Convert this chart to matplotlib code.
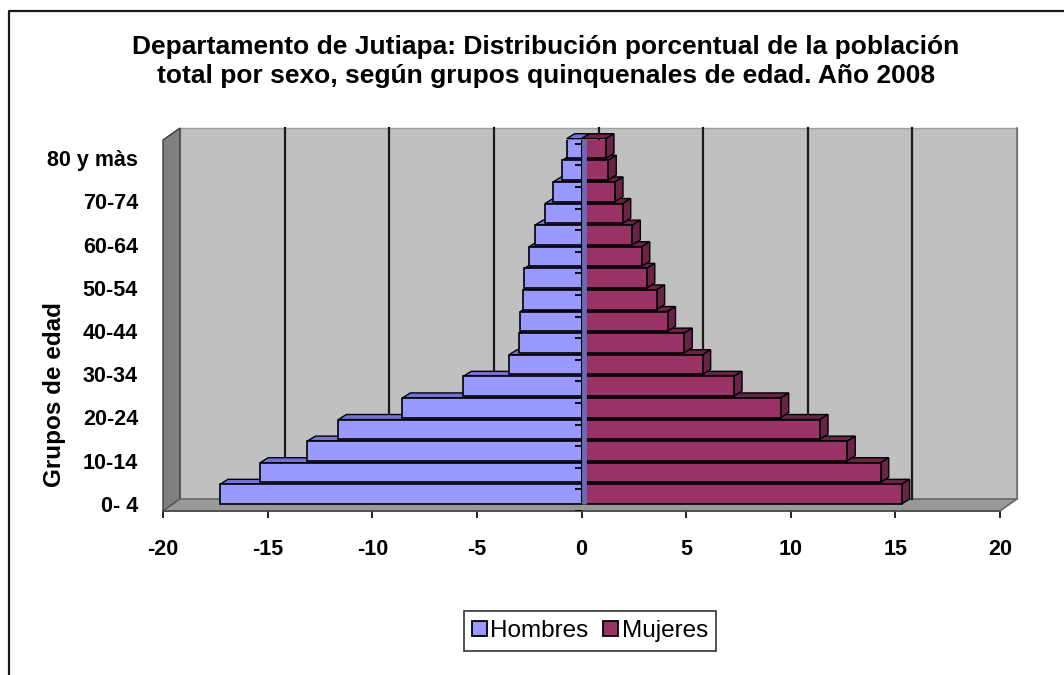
import matplotlib

matplotlib.use("Agg")
import matplotlib.pyplot as plt
import numpy as np
from matplotlib.lines import Line2D
from matplotlib.patches import Patch, Polygon


GROUPS = [
    "0- 4", "5-9", "10-14", "15-19", "20-24", "25-29", "30-34", "35-39",
    "40-44", "45-49", "50-54", "55-59", "60-64", "65-69", "70-74", "75-79",
    "80 y màs",
]
HOMBRES = [
    -17.28, -15.36, -13.10, -11.62, -8.56, -5.65, -3.46, -2.99,
    -2.92, -2.78, -2.73, -2.51, -2.22, -1.74, -1.35, -0.92, -0.71,
]
MUJERES = [
    15.30, 14.30, 12.70, 11.40, 9.52, 7.29, 5.79, 4.91,
    4.11, 3.59, 3.12, 2.88, 2.43, 1.97, 1.60, 1.28, 1.17,
]
X_TICKS = [-20, -15, -10, -5, 0, 5, 10, 15, 20]
GRID_X = [-15, -10, -5, 0, 5, 10, 15]

W, H = 1064, 675
# plot box (front plane) in pixels
AX_L, AX_R, AX_B, AX_T = 163, 1000, 511, 140
SX = (AX_R - AX_L) / 40.0
SY = 21.6
Y0 = -0.78
Y1 = Y0 + (AX_B - AX_T) / SY
WDX, WDY = 17 / SX, 12 / SY      # wall depth
BDX, BDY = 8 / SX, 5 / SY        # bar depth
BAR_H = 0.91

BLUE, BLUE_DK = "#9999FF", "#7373D8"
PLUM, PLUM_DK = "#993366", "#6A2347"
FONT = ["Liberation Sans", "DejaVu Sans"]


def poly(ax, pts, fc, ec="none", lw=0.0, z=1.0):
    ax.add_patch(Polygon(pts, closed=True, facecolor=fc, edgecolor=ec,
                         linewidth=lw, zorder=z, clip_on=False))


def add_depth(ax, bar, color, side=True):
    x0, x1 = bar.get_x(), bar.get_x() + bar.get_width()
    x0, x1 = min(x0, x1), max(x0, x1)
    yb, yt = bar.get_y(), bar.get_y() + bar.get_height()
    z = bar.get_zorder() - 0.2
    poly(ax, [(x0, yt), (x1, yt), (x1 + BDX, yt + BDY), (x0 + BDX, yt + BDY)],
         color, "black", 1.0, z)
    if side:
        poly(ax, [(x1, yb), (x1 + BDX, yb + BDY), (x1 + BDX, yt + BDY), (x1, yt)],
             color, "black", 1.0, z)


def main() -> None:
    plt.rcParams["font.family"] = FONT

    fig = plt.figure(figsize=(W / 100, H / 100), dpi=100)
    ax = fig.add_axes([AX_L / W, (H - AX_B) / H, (AX_R - AX_L) / W, (AX_B - AX_T) / H])
    ax.set_xlim(-20, 20)
    ax.set_ylim(Y0, Y1)
    for s in ax.spines.values():
        s.set_visible(False)
    ax.patch.set_visible(False)

    # walls and floor
    poly(ax, [(-20 + WDX, Y0 + WDY), (20 + WDX, Y0 + WDY), (20 + WDX, Y1 + WDY),
              (-20 + WDX, Y1 + WDY)], "#C0C0C0", "#9E9E9E", 1.0, 0.5)
    poly(ax, [(-20, Y0), (-20 + WDX, Y0 + WDY), (-20 + WDX, Y1 + WDY), (-20, Y1)],
         "#808080", "#3A3A3A", 1.0, 0.6)
    poly(ax, [(-20, Y0), (20, Y0), (20 + WDX, Y0 + WDY), (-20 + WDX, Y0 + WDY)],
         "#999999", "#5A5A5A", 1.0, 0.6)
    for gx in GRID_X:
        ax.plot([gx + WDX, gx + WDX], [Y0 + WDY, Y1 + WDY], color="#1A1A1A",
                lw=1.6, zorder=1, clip_on=False)
    ax.plot([20 + WDX, 20 + WDX], [Y0 + WDY, Y1 + WDY], color="#6E6E6E",
            lw=1.2, zorder=1, clip_on=False)

    pos = np.arange(len(GROUPS))
    hb = ax.barh(pos, HOMBRES, height=BAR_H, color=BLUE, edgecolor="black", linewidth=1.2)
    mb = ax.barh(pos, MUJERES, height=BAR_H, color=PLUM, edgecolor="black", linewidth=1.2)
    for i, (b, m) in enumerate(zip(hb, mb)):
        b.set_zorder(10 + 3 * i)
        m.set_zorder(11 + 3 * i)
        add_depth(ax, b, BLUE_DK, side=False)
        add_depth(ax, m, PLUM_DK)

    # category axis at zero
    ax.plot([0.12, 0.12], [pos[0] - BAR_H / 2, pos[-1] + BAR_H / 2 + BDY],
            color="#6A6AB5", lw=3.5, zorder=200, solid_capstyle="butt")
    ax.hlines(list(pos + 0.22) + [Y0], -0.3, 0.0, color="black", lw=1.3, zorder=201)

    # front axis line
    ax.plot([-20, 20], [Y0, Y0], color="#4A4A4A", lw=1.2, zorder=5, clip_on=False)

    ax.set_xticks(X_TICKS)
    ax.set_xticklabels([str(t) for t in X_TICKS])
    ax.tick_params(axis="x", direction="out", length=5, width=1.2, pad=15,
                   labelsize=15.5, colors="black")
    ax.set_yticks(pos[::2] - 0.45)
    ax.set_yticklabels(GROUPS[::2])
    ax.tick_params(axis="y", length=0, pad=18, labelsize=15.5)
    for lab in ax.get_xticklabels() + ax.get_yticklabels():
        lab.set_fontweight("bold")

    fig.text(55 / W, 1 - 395 / H, "Grupos de edad", rotation=90, ha="center",
             va="center", fontsize=17.5, fontweight="bold")

    fig.text(546 / W, 1 - 47 / H,
             "Departamento de Jutiapa: Distribución porcentual de la población",
             ha="center", va="center", fontsize=19, fontweight="bold")
    fig.text(546 / W, 1 - 76 / H,
             "total por sexo, según grupos quinquenales de edad. Año 2008",
             ha="center", va="center", fontsize=19, fontweight="bold")

    handles = [Patch(facecolor=BLUE, edgecolor="black", linewidth=1.3, label="Hombres"),
               Patch(facecolor=PLUM, edgecolor="black", linewidth=1.3, label="Mujeres")]
    leg = fig.legend(handles=handles, loc="center", bbox_to_anchor=(590 / W, 1 - 631 / H),
                     ncol=2, fontsize=17.5, frameon=True, fancybox=False, borderpad=0.35,
                     handlelength=0.6, handleheight=0.6, handletextpad=0.15,
                     columnspacing=0.6, borderaxespad=0)
    leg.get_frame().set_edgecolor("black")
    leg.get_frame().set_linewidth(1.2)

    # outer chart border (top and left visible)
    fig.add_artist(Line2D([8.5 / W, 8.5 / W, 1.0], [0.0, 1 - 11 / H, 1 - 11 / H],
                          transform=fig.transFigure, color="#1A1A1A", lw=1.6))

    fig.savefig("out.png", dpi=100)
    plt.close(fig)


if __name__ == "__main__":
    main()
